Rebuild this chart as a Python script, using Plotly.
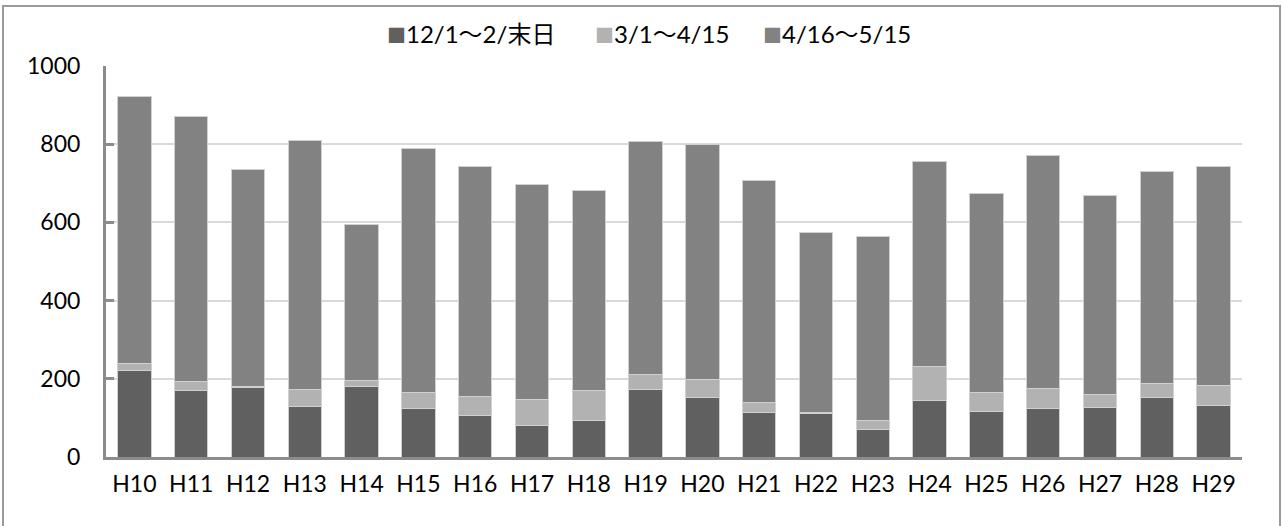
import plotly.graph_objects as go

categories = ["H10", "H11", "H12", "H13", "H14", "H15", "H16", "H17", "H18", "H19",
              "H20", "H21", "H22", "H23", "H24", "H25", "H26", "H27", "H28", "H29"]
series_names = ["12/1～2/末日", "3/1～4/15", "4/16～5/15"]
dec_feb = [220, 170, 179, 130, 181, 125, 107, 81, 94, 172,
           151, 115, 110, 71, 144, 117, 125, 126, 153, 132]
mar_apr = [20, 24, 2, 42, 15, 40, 47, 67, 77, 38,
           48, 25, 4, 22, 88, 49, 51, 33, 35, 51]
apr_may = [682, 677, 555, 637, 399, 624, 589, 548, 510, 596,
           601, 568, 461, 470, 525, 509, 594, 509, 543, 560]
y_ticks = [0, 200, 400, 600, 800, 1000]

colors = ["#606060", "#b2b2b2", "#828282"]
font_family = "Lato, 'Noto Sans CJK JP', sans-serif"

W, H = 1282, 526
ML, MR, MT, MB = 106, 40, 66, 69
PW, PH = W - ML - MR, H - MT - MB

fig = go.Figure()
for name, vals, c in zip(series_names, [dec_feb, mar_apr, apr_may], colors):
    fig.add_trace(go.Bar(
        x=categories, y=vals, name=name, showlegend=False,
        marker=dict(color=c, line=dict(color="#d0d0d0", width=1)),
    ))

# legend drawn as text annotations (square glyph + label)
legend_left_px = [385, 593, 761]
annotations = []
for name, c, lx in zip(series_names, colors, legend_left_px):
    annotations.append(dict(
        xref="paper", yref="paper", x=(lx - ML) / PW, y=1 + (MT - 33) / PH,
        xanchor="left", yanchor="middle", showarrow=False,
        text=f'<span style="color:{c};font-size:19px">■</span>{name}',
        font=dict(size=24, family=font_family, color="#000000"),
    ))

fig.update_layout(
    width=W, height=H,
    barmode="stack", bargap=0.41,
    margin=dict(l=ML, r=MR, t=MT, b=MB, autoexpand=False),
    paper_bgcolor="white", plot_bgcolor="white",
    font=dict(family=font_family, size=23, color="#000000"),
    showlegend=False,
    annotations=annotations,
    xaxis=dict(showline=True, linecolor="#8c8c8c", linewidth=3, ticks="",
               tickfont=dict(size=23), ticklabelstandoff=4, fixedrange=True),
    yaxis=dict(range=[0, 1000], tickvals=y_ticks, showgrid=True, gridcolor="#d9d9d9",
               gridwidth=2, showline=True, linecolor="#8c8c8c", linewidth=3,
               ticks="inside", ticklen=8, tickwidth=3, tickcolor="#8c8c8c",
               zeroline=False, tickfont=dict(size=23), ticklabelstandoff=18),
    shapes=[dict(type="rect", xref="paper", yref="paper",
                 x0=-(ML - 3) / PW, x1=1 + (MR - 2) / PW,
                 y0=-(MB + 10) / PH, y1=1 + (MT - 6) / PH,
                 line=dict(color="#9a9a9a", width=2), layer="below")],
)

fig.write_html("out.html", config={"displayModeBar": False},
               post_script="document.body.style.margin='0px';")
